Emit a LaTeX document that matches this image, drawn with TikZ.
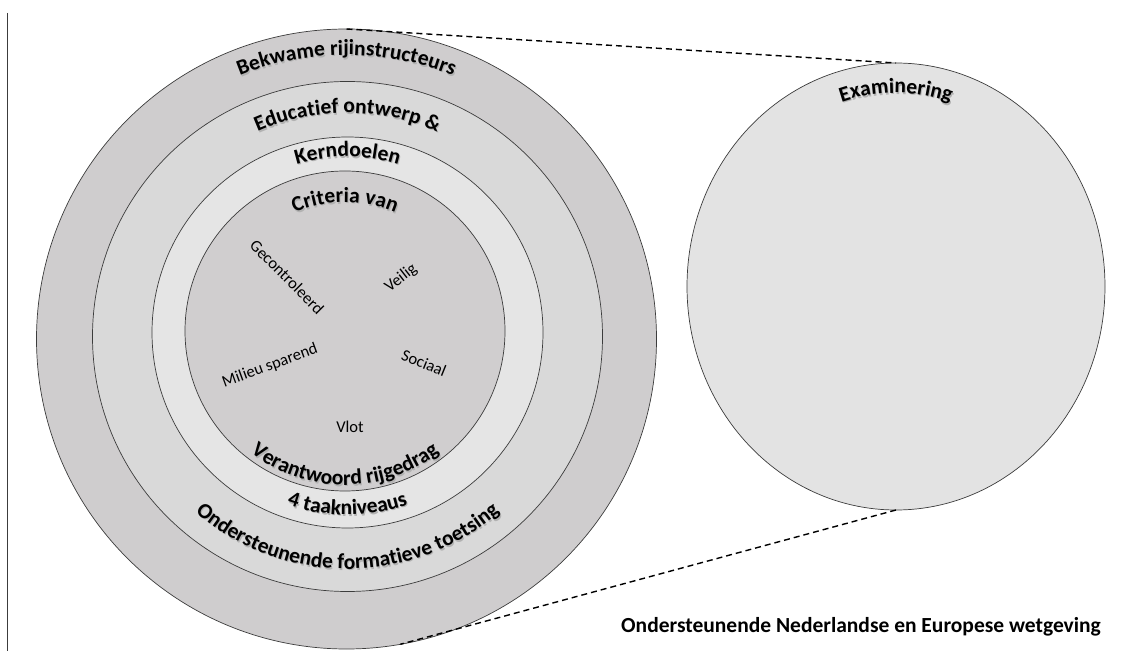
\documentclass[tikz,border=0pt]{standalone}
\usepackage{fontspec}
\setmainfont{Carlito}
\usetikzlibrary{decorations.text,shapes.geometric}
\definecolor{ringA}{RGB}{207,205,206}
\definecolor{ringB}{RGB}{217,217,217}
\definecolor{ringC}{RGB}{229,229,229}
\definecolor{ringD}{RGB}{208,206,207}
\definecolor{examfill}{RGB}{227,227,227}
\definecolor{edgecol}{RGB}{60,60,60}
\newcommand\lblfont{\fontsize{21.5}{24}\selectfont\bfseries}
\newcommand\smallfont{\fontsize{16.5}{19}\selectfont}
\newcommand\arclabel[5]{%
  \path[decorate,decoration={text along path,text align=center,text={|\lblfont\color{black!30}|#5}}]
    ([xshift=1,yshift=-1.5]#1) ++(#3:#2) arc[start angle=#3,end angle=#4,radius=#2];
  \path[decorate,decoration={text along path,text align=center,text={|\lblfont|#5}}]
    (#1) ++(#3:#2) arc[start angle=#3,end angle=#4,radius=#2];
}
\begin{document}
\begin{tikzpicture}[x=1pt,y=1pt,
  ring/.style={circle,draw=edgecol,line width=0.7,inner sep=0pt,outer sep=0pt},
  dashline/.style={line width=1.4,dash pattern=on 6pt off 4pt},
  small/.style={font=\smallfont,inner sep=0pt}]
\useasboundingbox (0,0) rectangle (1125,651);
% left rule
\coordinate (lt) at (7.5,638);
\coordinate (lb) at (7.5,0);
\draw[edgecol,line width=0.8] (lt) -- (lb);
% centres
\coordinate (cA) at (346.5,312);
\coordinate (cB) at (347.5,314.5);
\coordinate (cC) at (347.5,318.5);
\coordinate (cD) at (345,320);
\coordinate (cE) at (896,364.5);
% circles
\node[ring,fill=ringA,minimum size=620] (outer) at (cA) {};
\node[ring,fill=ringB,minimum size=510] (second) at (cB) {};
\node[ring,fill=ringC,minimum size=391] (third) at (cC) {};
\node[ring,fill=ringD,minimum size=320] (inner) at (cD) {};
\node[ellipse,draw=edgecol,line width=0.7,fill=examfill,minimum width=418,minimum height=447,inner sep=0pt,outer sep=0pt] (exam) at (cE) {};
% dashed connectors
\draw[dashline] (outer.north) -- (exam.north);
\draw[dashline] (exam.south) -- (outer.-80);
% curved labels (top)
\arclabel{cA}{284}{180}{0}{Bekwame rijinstructeurs}
\arclabel{cB}{223.5}{180}{0}{Educatief ontwerp {\&}}
\arclabel{cC}{175.8}{180}{0}{Kerndoelen}
\arclabel{cD}{128.5}{180}{0}{Criteria van}
% curved labels (bottom)
\arclabel{cD}{154}{180}{360}{Verantwoord rijgedrag}
\arclabel{cC}{182.5}{180}{360}{4 taakniveaus}
\arclabel{cB}{232.5}{180}{360}{Ondersteunende formatieve toetsing}
% Examinering
\path[decorate,decoration={text along path,text align=center,text={|\lblfont\color{black!30}|Examinering}}]
  ([xshift=1,yshift=-1.5]cE) ++(180:179 and 193.5) arc[start angle=180,end angle=0,x radius=179,y radius=193.5];
\path[decorate,decoration={text along path,text align=center,text={|\lblfont|Examinering}}]
  (cE) ++(180:179 and 193.5) arc[start angle=180,end angle=0,x radius=179,y radius=193.5];
% inner criteria
\node[small,rotate=-45] (gec) at (287,374) {Gecontroleerd};
\node[small,rotate=38] (vei) at (401,373) {Veilig};
\node[small,rotate=20] (mil) at (270,285) {Milieu sparend};
\node[small,rotate=-22] (soc) at (424,288) {Sociaal};
\node[small] (vlo) at (350,224) {Vlot};
% bottom text
\node[anchor=base west,font=\lblfont,inner sep=0pt] (law) at (621,19) {Ondersteunende Nederlandse en Europese wetgeving};
\end{tikzpicture}
\end{document}
